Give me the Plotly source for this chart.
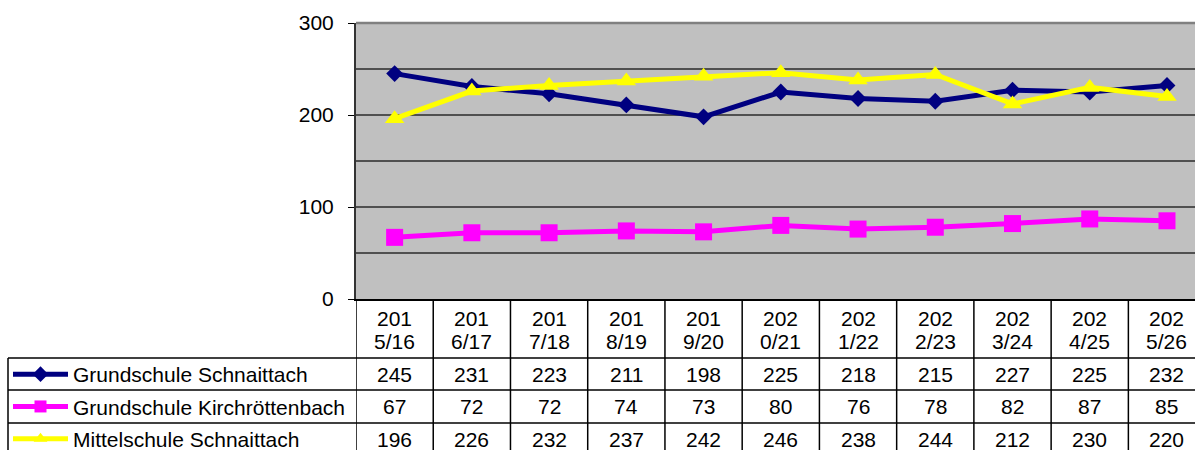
import plotly.graph_objects as go

categories = ["2015/16", "2016/17", "2017/18", "2018/19", "2019/20", "2020/21",
              "2021/22", "2022/23", "2023/24", "2024/25", "2025/26"]
series_names = ["Grundschule Schnaittach", "Grundschule Kirchröttenbach", "Mittelschule Schnaittach"]
gs_schnaittach = [245, 231, 223, 211, 198, 225, 218, 215, 227, 225, 232]
gs_kirchroettenbach = [67, 72, 72, 74, 73, 80, 76, 78, 82, 87, 85]
ms_schnaittach = [196, 226, 232, 237, 242, 246, 238, 244, 212, 230, 220]
y_ticks = [0, 100, 200, 300]

series_values = [gs_schnaittach, gs_kirchroettenbach, ms_schnaittach]
colors = ["#000080", "#FF00FF", "#FFFF00"]
symbols = ["diamond", "square", "triangle-up"]
msizes = [13, 17, 17]

FONT = "Liberation Sans, Arial, sans-serif"
FS = 21

W, H = 1195, 450
ML, MR, MT, MB = 356, 0, 23, 151
PW = W - ML - MR
PH = H - MT - MB


def py(p):
    # pixel y -> paper y
    return (H - MB - p) / PH


def px(p):
    return (p - ML) / PW


fig = go.Figure()
idx = list(range(len(categories)))
for name, vals, c, s, ms in zip(series_names, series_values, colors, symbols, msizes):
    fig.add_trace(go.Scatter(
        x=idx, y=vals, name=name, mode="lines+markers",
        line=dict(color=c, width=5),
        marker=dict(color=c, symbol=s, size=ms, line=dict(width=0)),
        legendgroup=name,
    ))

shapes = []
# top border of plot area
shapes.append(dict(type="line", xref="paper", yref="paper", x0=0, x1=1, y0=1, y1=1,
                   line=dict(color="#808080", width=2.5)))
# table vertical lines
y_bottom = py(H + 10)
for i in range(len(categories) + 1):
    shapes.append(dict(type="line", xref="x", yref="paper", x0=i - 0.5, x1=i - 0.5,
                       y0=0, y1=y_bottom, line=dict(color="black", width=1.5)))
# legend column left border
shapes.append(dict(type="line", xref="paper", yref="paper", x0=px(8), x1=px(8),
                   y0=py(358), y1=y_bottom, line=dict(color="black", width=1.5)))
# table horizontal lines
for p in [358, 390, 423]:
    shapes.append(dict(type="line", xref="paper", yref="paper", x0=px(8), x1=1,
                       y0=py(p), y1=py(p), line=dict(color="black", width=1.5)))

annotations = []
for i, cat in enumerate(categories):
    annotations.append(dict(x=i, y=py(318.5), xref="x", yref="paper", text=cat[:3],
                            showarrow=False, xanchor="center", yanchor="middle",
                            font=dict(family=FONT, size=FS, color="black")))
    annotations.append(dict(x=i, y=py(341.5), xref="x", yref="paper", text=cat[3:],
                            showarrow=False, xanchor="center", yanchor="middle",
                            font=dict(family=FONT, size=FS, color="black")))
row_centers = [374, 406.5, 439]
for vals, rc in zip(series_values, row_centers):
    for i, v in enumerate(vals):
        annotations.append(dict(x=i, y=py(rc), xref="x", yref="paper", text=str(v),
                                showarrow=False, xanchor="center", yanchor="middle",
                                font=dict(family=FONT, size=FS, color="black")))

fig.update_layout(
    width=W, height=H,
    margin=dict(l=ML, r=MR, t=MT, b=MB, pad=0, autoexpand=False),
    paper_bgcolor="white",
    plot_bgcolor="#C0C0C0",
    font=dict(family=FONT, size=FS, color="black"),
    showlegend=True,
    legend=dict(xref="container", yref="container", x=8 / W, y=1 - 354 / H,
                xanchor="left", yanchor="top",
                font=dict(family=FONT, size=FS, color="black"),
                bgcolor="rgba(0,0,0,0)", traceorder="grouped", tracegroupgap=2,
                itemwidth=55, itemclick=False, itemsizing="constant"),
    xaxis=dict(range=[-0.5, 10 + (W - 1167) / 77.2], showgrid=False, zeroline=False,
               showticklabels=False, ticks="", showline=True, linecolor="black",
               linewidth=2, fixedrange=True),
    yaxis=dict(range=[0, 300], tickvals=y_ticks, ticks="outside", ticklen=6,
               tickcolor="black", tickwidth=1.3, showline=True, linecolor="#333333",
               linewidth=2, showgrid=True, gridcolor="#505050", gridwidth=1.5,
               minor=dict(dtick=50, showgrid=True, gridcolor="#505050", gridwidth=1.5,
                          ticks=""),
               zeroline=False, ticklabelstandoff=10,
               tickfont=dict(family=FONT, size=FS, color="black"), fixedrange=True),
    shapes=shapes,
    annotations=annotations,
)

fig.write_html("out.html", config={"displayModeBar": False},
               post_script="document.body.style.margin='0px';document.body.style.overflow='hidden';")
